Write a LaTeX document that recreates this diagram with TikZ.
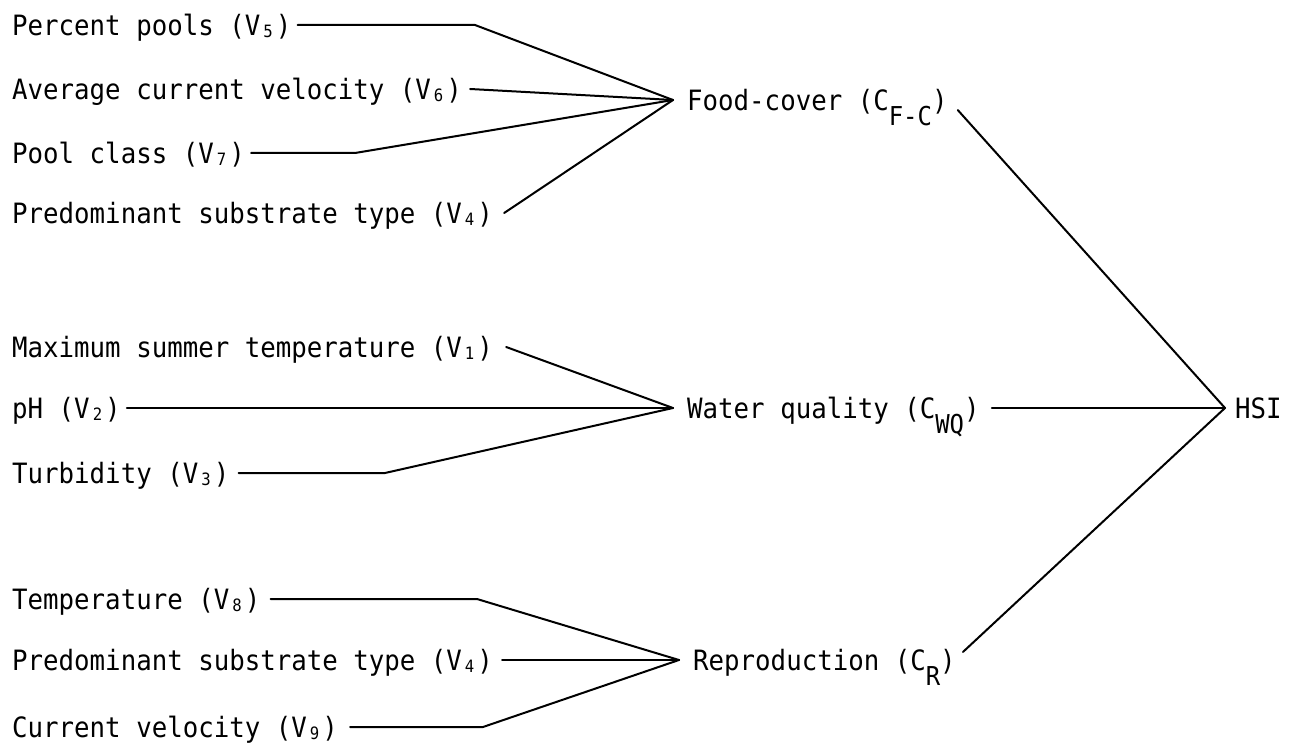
\documentclass[tikz,border=0pt]{standalone}
\usepackage{fontspec}
\newfontfamily\tw[FakeStretch=0.92]{DejaVu Sans Mono}
\newcommand\vsub[1]{\makebox[15.5pt][c]{\raisebox{-2pt}{\fontsize{17}{17}\selectfont #1}}}
\newcommand\csub[1]{\raisebox{-15pt}{\fontsize{26}{26}\selectfont #1}}
\begin{document}
\begin{tikzpicture}[x=1pt,y=-1pt,
  lbl/.style={font=\tw\fontsize{28}{30}\selectfont, inner sep=0pt, text height=20.4pt, text depth=0pt, anchor=west},
  conn/.style={line width=2pt, line cap=round, line join=miter}]
\useasboundingbox (0,0) rectangle (1302,746);
% left labels
\node[lbl] (v5)  at (12,25)  {Percent pools (V\vsub5)};
\node[lbl] (v6)  at (12,89)  {Average current velocity (V\vsub6)};
\node[lbl] (v7)  at (12,153) {Pool class (V\vsub7)};
\node[lbl] (v4a) at (12,213) {Predominant substrate type (V\vsub4)};
\node[lbl] (v1)  at (12,347) {Maximum summer temperature (V\vsub1)};
\node[lbl] (v2)  at (12,408) {pH (V\vsub2)};
\node[lbl] (v3)  at (12,473) {Turbidity (V\vsub3)};
\node[lbl] (v8)  at (12,599) {Temperature (V\vsub8)};
\node[lbl] (v4b) at (12,660) {Predominant substrate type (V\vsub4)};
\node[lbl] (v9)  at (12,727) {Current velocity (V\vsub9)};
% component labels
\node[lbl] (fc)  at (687,100) {Food-cover (C\csub{F-C})};
\node[lbl] (wq)  at (687,408) {Water quality (C\csub{WQ})};
\node[lbl] (rp)  at (693,660) {Reproduction (C\csub{R})};
\node[lbl] (hsi) at (1235,408) {HSI};
% bends
\coordinate (b5) at (475,25);
\coordinate (b7) at (355,153);
\coordinate (b3) at (385,473);
\coordinate (b8) at (477,599);
\coordinate (b9) at (483,727);
% food-cover
\draw[conn] ([xshift=6pt]v5.east) -- (b5) -- ([xshift=-14pt]fc.west);
\draw[conn] ([xshift=8pt]v6.east) -- ([xshift=-14pt]fc.west);
\draw[conn] ([xshift=6pt]v7.east) -- (b7) -- ([xshift=-14pt]fc.west);
\draw[conn] ([xshift=11pt]v4a.east) -- ([xshift=-14pt]fc.west);
% water quality
\draw[conn] ([xshift=13pt]v1.east) -- ([xshift=-14pt]wq.west);
\draw[conn] ([xshift=6pt]v2.east) -- ([xshift=-14pt]wq.west);
\draw[conn] ([xshift=9pt]v3.east) -- (b3) -- ([xshift=-14pt]wq.west);
% reproduction
\draw[conn] ([xshift=10pt]v8.east) -- (b8) -- ([xshift=-14pt]rp.west);
\draw[conn] ([xshift=9pt]v4b.east) -- ([xshift=-14pt]rp.west);
\draw[conn] ([xshift=12pt]v9.east) -- (b9) -- ([xshift=-14pt]rp.west);
% HSI
\draw[conn] ([xshift=10pt,yshift=-10pt]fc.east) -- ([xshift=-10pt]hsi.west);
\draw[conn] ([xshift=12pt]wq.east) -- ([xshift=-10pt]hsi.west);
\draw[conn] ([xshift=7pt,yshift=8pt]rp.east) -- ([xshift=-10pt]hsi.west);
\end{tikzpicture}
\end{document}
